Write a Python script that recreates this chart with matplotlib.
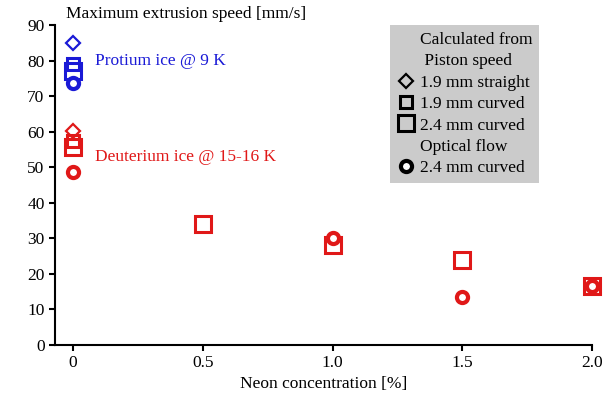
import matplotlib
matplotlib.use('Agg')
import matplotlib.pyplot as plt
from matplotlib.lines import Line2D

plt.rcParams['font.family'] = ['Liberation Serif', 'DejaVu Serif']

# Protium ice @ 9 K (x = 0 only)
h_straight_19 = [85.0]
h_curved_19 = [79.0]
h_curved_24 = [77.2]
h_optical_24 = [73.6]

# Deuterium ice @ 15-16 K
d_x_straight_19 = [0.0]
d_straight_19 = [60.3]
d_x_curved_19 = [0.0]
d_curved_19 = [57.4]
d_x_curved_24 = [0.0, 0.5, 1.0, 1.5, 2.0]
d_curved_24 = [55.6, 34.0, 28.0, 24.0, 16.7]
d_x_optical_24 = [0.0, 1.0, 1.5, 2.0]
d_optical_24 = [48.6, 30.1, 13.5, 16.7]

blue = '#1a1ad6'
red = '#e01818'
fs = 12.5

fig = plt.figure(figsize=(6.11, 3.94), dpi=100)
ax = fig.add_axes([0.09, 0.1244, 0.879, 0.8121])

styles = {
    'straight19': dict(marker='D', ms=7.5, mew=1.6, mfc='none', ls='none'),
    'curved19': dict(marker='s', ms=8, mew=2.2, mfc='none', ls='none'),
    'curved24': dict(marker='s', ms=11, mew=2.2, mfc='none', ls='none'),
    'optical24': dict(marker='o', ms=8, mew=3.0, mfc='white', ls='none'),
}

ax.plot([0] * len(h_straight_19), h_straight_19, color=blue, clip_on=False, **styles['straight19'])
ax.plot([0] * len(h_curved_19), h_curved_19, color=blue, clip_on=False, **styles['curved19'])
ax.plot([0] * len(h_curved_24), h_curved_24, color=blue, clip_on=False, **styles['curved24'])
ax.plot([0] * len(h_optical_24), h_optical_24, color=blue, clip_on=False, **styles['optical24'])

ax.plot(d_x_straight_19, d_straight_19, color=red, clip_on=False, **styles['straight19'])
ax.plot(d_x_curved_19, d_curved_19, color=red, clip_on=False, **styles['curved19'])
ax.plot(d_x_curved_24, d_curved_24, color=red, clip_on=False, **styles['curved24'])
ax.plot(d_x_optical_24, d_optical_24, color=red, clip_on=False, **styles['optical24'])

ax.text(0.085, 80.0, 'Protium ice @ 9 K', color=blue, fontsize=fs, va='center')
ax.text(0.085, 52.8, 'Deuterium ice @ 15-16 K', color=red, fontsize=fs, va='center')

ax.set_xlim(-0.07, 2.0)
ax.set_ylim(0, 90)
ax.set_xticks([0, 0.5, 1.0, 1.5, 2.0])
ax.set_xticklabels(['0', '0.5', '1.0', '1.5', '2.0'])
ax.set_yticks(range(0, 91, 10))
ax.tick_params(labelsize=fs, length=4, width=1.5)
ax.spines['top'].set_visible(False)
ax.spines['right'].set_visible(False)
ax.spines['left'].set_linewidth(1.5)
ax.spines['bottom'].set_linewidth(1.5)

ax.set_xlabel('Neon concentration [%]', fontsize=fs, labelpad=3)
fig.text(0.108, 0.965, 'Maximum extrusion speed [mm/s]', fontsize=fs, va='center')

blank = Line2D([], [], ls='none')
handles = [
    blank, blank,
    Line2D([], [], color='black', **styles['straight19']),
    Line2D([], [], color='black', **styles['curved19']),
    Line2D([], [], color='black', **styles['curved24']),
    blank,
    Line2D([], [], color='black', **styles['optical24']),
]
labels = ['Calculated from', ' Piston speed', '1.9 mm straight', '1.9 mm curved',
          '2.4 mm curved', 'Optical flow', '2.4 mm curved']
leg = ax.legend(handles, labels, loc='upper left', bbox_to_anchor=(0.624, 1.0),
                borderaxespad=0, fontsize=fs, frameon=True, fancybox=False,
                handlelength=1.0, handletextpad=0.3, labelspacing=0.3,
                borderpad=0.4)
leg.get_frame().set_facecolor('#cbcbcb')
leg.get_frame().set_edgecolor('none')
leg.get_frame().set_alpha(1)

fig.savefig('out.png', dpi=100)
